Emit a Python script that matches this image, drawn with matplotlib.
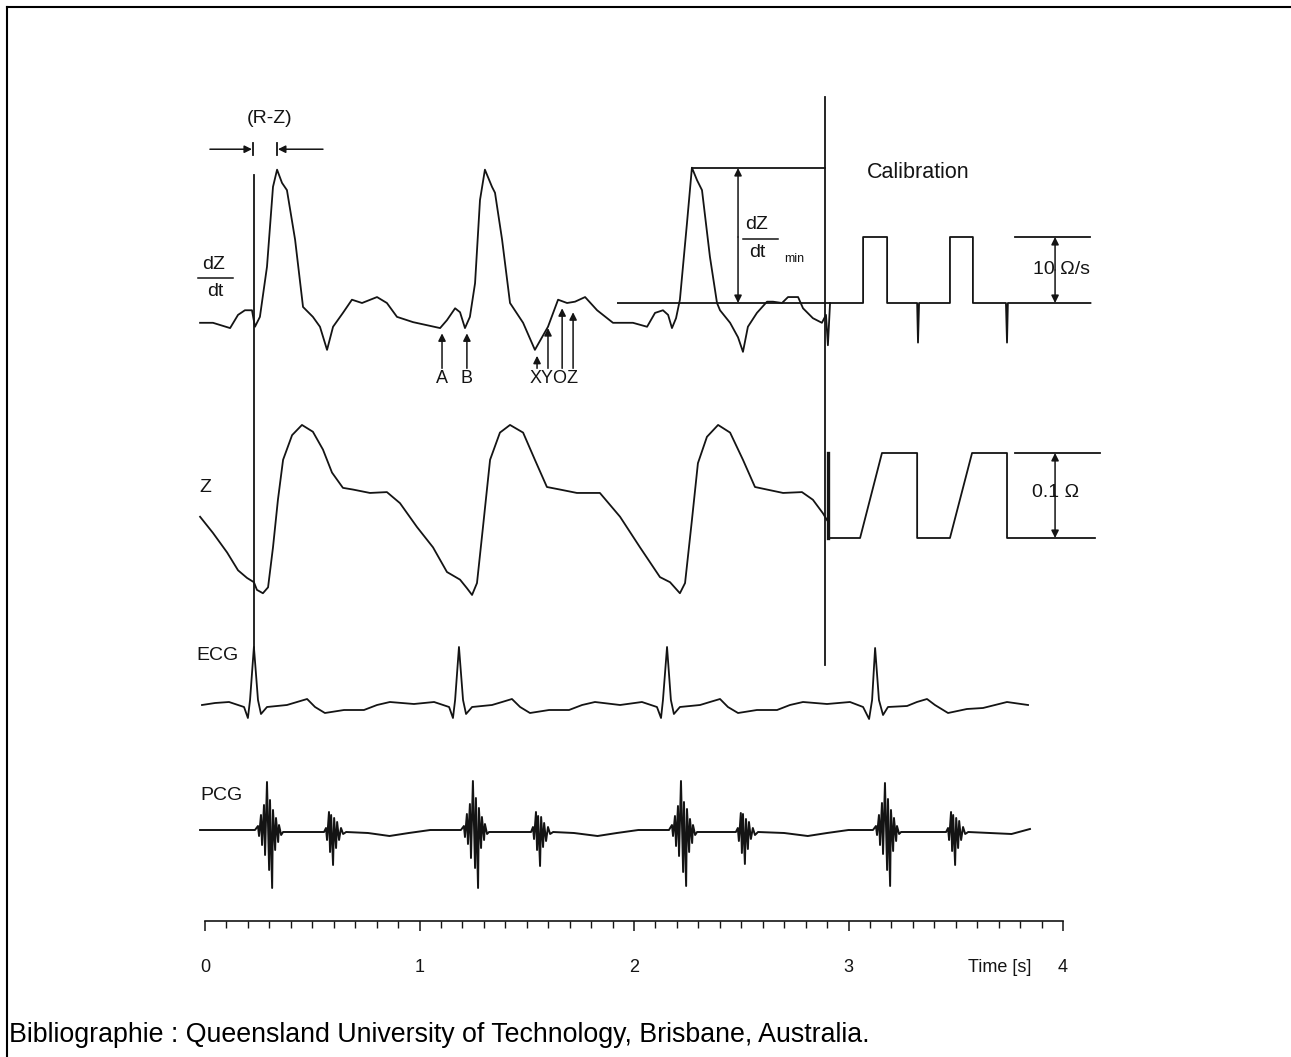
import numpy as np
import matplotlib
matplotlib.use('Agg')
import matplotlib.pyplot as plt
from matplotlib.lines import Line2D
from matplotlib.ticker import FixedLocator

plt.rcParams['font.family'] = ['Liberation Sans', 'DejaVu Sans']

# ---- traces (time in s) ----
# dZ/dt in Ohm/s
dzdt_t = [-0.023, 0.037, 0.117, 0.154, 0.186, 0.219, 0.233, 0.256, 0.289, 0.317,
          0.336, 0.359, 0.382, 0.420, 0.457, 0.503, 0.536, 0.569, 0.597, 0.643,
          0.685, 0.732, 0.802, 0.848, 0.895, 0.970, 1.096, 1.128, 1.166, 1.189,
          1.212, 1.235, 1.259, 1.282, 1.305, 1.338, 1.352, 1.385, 1.422, 1.483,
          1.538, 1.571, 1.599, 1.646, 1.688, 1.725, 1.772, 1.828, 1.902, 1.995,
          2.061, 2.098, 2.135, 2.159, 2.177, 2.196, 2.214, 2.247, 2.270, 2.294,
          2.317, 2.354, 2.387, 2.401, 2.448, 2.485, 2.508, 2.531, 2.573, 2.620,
          2.648, 2.690, 2.718, 2.765, 2.788, 2.834, 2.876, 2.895, 2.904, 2.914]
dzdt_v = [-3.0, -3.0, -3.8, -1.8, -1.1, -1.1, -3.6, -2.1, 5.5, 17.6,
          20.2, 18.2, 17.1, 9.6, -0.6, -2.1, -3.6, -7.1, -3.6, -1.5,
          0.5, 0.0, 0.9, 0.0, -2.1, -2.9, -3.8, -2.6, -0.8, -1.4,
          -3.8, -2.1, 3.0, 15.6, 20.2, 17.6, 16.7, 9.6, 0.0, -3.0,
          -7.1, -5.2, -3.6, 0.5, 0.0, 0.2, 0.9, -1.1, -3.0, -3.0,
          -3.6, -1.5, -1.1, -1.8, -3.8, -2.3, 0.5, 12.1, 20.5, 18.6,
          17.1, 7.0, 0.0, -1.1, -3.0, -5.2, -7.4, -3.6, -1.5, 0.2,
          0.2, 0.0, 0.9, 0.9, -0.8, -2.3, -3.0, -1.8, -6.4, 0.0]

# dZ/dt calibration (10 Ohm/s pulses)
cal_dz_t = [1.925, 2.914, 3.068, 3.068, 3.180, 3.180, 3.320, 3.324, 3.329,
            3.473, 3.473, 3.580, 3.580, 3.734, 3.739, 3.743, 4.128]
cal_dz_v = [0, 0, 0, 10, 10, 0, 0, -6.0, 0, 0, 10, 10, 0, 0, -6.0, 0, 0]

# Z in Ohm (relative)
z_t = [-0.023, 0.037, 0.103, 0.154, 0.196, 0.228, 0.242, 0.270, 0.294, 0.317,
       0.340, 0.364, 0.406, 0.452, 0.503, 0.550, 0.592, 0.643, 0.690, 0.769,
       0.848, 0.909, 0.988, 1.063, 1.128, 1.189, 1.221, 1.245, 1.268, 1.296,
       1.329, 1.375, 1.422, 1.483, 1.538, 1.594, 1.655, 1.734, 1.841, 1.935,
       2.028, 2.121, 2.168, 2.214, 2.238, 2.270, 2.298, 2.340, 2.392, 2.448,
       2.508, 2.564, 2.620, 2.695, 2.783, 2.834, 2.881, 2.900]
z_v = [0.025, 0.006, -0.017, -0.038, -0.047, -0.052, -0.061, -0.065, -0.058, -0.011,
       0.045, 0.092, 0.121, 0.133, 0.125, 0.104, 0.077, 0.059, 0.057, 0.053,
       0.054, 0.041, 0.013, -0.011, -0.040, -0.049, -0.059, -0.067, -0.053, 0.013,
       0.092, 0.124, 0.133, 0.124, 0.092, 0.060, 0.057, 0.053, 0.053, 0.025,
       -0.011, -0.046, -0.052, -0.065, -0.053, 0.021, 0.088, 0.119, 0.133, 0.124,
       0.092, 0.060, 0.057, 0.053, 0.054, 0.045, 0.029, 0.021]

# Z calibration (0.1 Ohm steps)
cal_z_t = [2.904, 2.904, 3.054, 3.156, 3.320, 3.320, 3.473, 3.576, 3.739, 3.739, 4.149]
cal_z_v = [0.1, 0, 0, 0.1, 0.1, 0, 0, 0.1, 0.1, 0, 0]

# ECG in mV
ecg_t = [-0.014, 0.047, 0.112, 0.182, 0.200, 0.210, 0.228, 0.247, 0.261, 0.289,
         0.382, 0.429, 0.476, 0.513, 0.559, 0.648, 0.741, 0.802, 0.862, 0.974,
         1.068, 1.138, 1.156, 1.166, 1.184, 1.203, 1.217, 1.245, 1.338, 1.385,
         1.431, 1.469, 1.515, 1.604, 1.697, 1.758, 1.818, 1.935, 2.037, 2.107,
         2.126, 2.135, 2.154, 2.172, 2.186, 2.214, 2.308, 2.354, 2.401, 2.438,
         2.485, 2.573, 2.667, 2.727, 2.788, 2.900, 3.007, 3.068, 3.096, 3.110,
         3.124, 3.142, 3.161, 3.184, 3.273, 3.319, 3.366, 3.403, 3.464, 3.552,
         3.627, 3.739, 3.837]
ecg_v = [0, 0.04, 0.06, -0.04, -0.26, 0.10, 1.16, 0.10, -0.18, -0.04,
         0, 0.06, 0.12, -0.04, -0.16, -0.10, -0.10, 0, 0.06, 0.02,
         0.06, -0.04, -0.26, 0.10, 1.16, 0.10, -0.18, -0.04, 0, 0.06,
         0.12, -0.04, -0.16, -0.10, -0.10, 0, 0.06, 0, 0.06, -0.04,
         -0.26, 0.10, 1.16, 0.10, -0.18, -0.04, 0, 0.06, 0.12, -0.04,
         -0.16, -0.10, -0.10, 0, 0.06, 0.02, 0.06, -0.04, -0.28, 0.10,
         1.14, 0.10, -0.20, -0.04, -0.02, 0.06, 0.12, 0, -0.16, -0.08,
         -0.06, 0.06, 0]

# PCG (arbitrary units)
pcg_t = ([-0.023, 0.10, 0.20]
         + [0.233, 0.247, 0.252, 0.261, 0.266, 0.275, 0.280, 0.289, 0.299, 0.303,
            0.313, 0.317, 0.327, 0.331, 0.341, 0.345, 0.355, 0.364]
         + [0.42, 0.50]
         + [0.555, 0.564, 0.569, 0.578, 0.583, 0.588, 0.597, 0.602, 0.611, 0.616,
            0.625, 0.634, 0.644, 0.658]
         + [0.76, 0.86, 0.95, 1.05, 1.15]
         + [1.193, 1.207, 1.212, 1.221, 1.226, 1.235, 1.240, 1.249, 1.259, 1.263,
            1.273, 1.277, 1.287, 1.291, 1.301, 1.305, 1.315, 1.324]
         + [1.39, 1.47]
         + [1.520, 1.529, 1.534, 1.543, 1.548, 1.553, 1.562, 1.567, 1.576, 1.581,
            1.590, 1.599, 1.609, 1.623]
         + [1.72, 1.83, 1.92, 2.02, 2.12]
         + [2.163, 2.177, 2.182, 2.191, 2.196, 2.205, 2.210, 2.219, 2.229, 2.233,
            2.243, 2.247, 2.257, 2.261, 2.271, 2.275, 2.285, 2.294]
         + [2.36, 2.44]
         + [2.475, 2.484, 2.489, 2.498, 2.503, 2.508, 2.517, 2.522, 2.531, 2.536,
            2.545, 2.554, 2.564, 2.578]
         + [2.70, 2.81, 2.90, 3.00, 3.07]
         + [3.114, 3.128, 3.133, 3.142, 3.147, 3.156, 3.161, 3.170, 3.180, 3.184,
            3.194, 3.198, 3.208, 3.212, 3.222, 3.226, 3.236, 3.245]
         + [3.32, 3.40]
         + [3.455, 3.464, 3.469, 3.478, 3.483, 3.488, 3.497, 3.502, 3.511, 3.516,
            3.525, 3.534, 3.544, 3.558]
         + [3.66, 3.76, 3.846])
pcg_v = ([0, 0, 0]
         + [0, 0.4, -0.6, 1.5, -1.5, 2.5, -2.5, 4.8, -4.0, 3.0,
            -5.8, 2.0, -2.0, 1.2, -1.2, 0.5, -0.5, -0.2]
         + [-0.2, -0.2]
         + [-0.2, 0.2, -1.0, 1.8, -2.2, 1.5, -3.5, 1.2, -1.8, 0.8,
            -1.0, 0.2, -0.4, -0.2]
         + [-0.3, -0.6, -0.3, 0, 0]
         + [0, 0.4, -0.7, 1.6, -1.4, 2.6, -2.8, 4.9, -3.8, 3.2,
            -5.8, 2.2, -1.8, 1.3, -1.0, 0.6, -0.4, -0.2]
         + [-0.2, -0.2]
         + [-0.2, 0.3, -0.9, 1.8, -2.0, 1.4, -3.6, 1.3, -1.7, 0.7,
            -1.1, 0.3, -0.4, -0.2]
         + [-0.3, -0.6, -0.3, 0, 0]
         + [0, 0.5, -0.6, 1.4, -1.6, 2.4, -2.6, 4.9, -4.2, 2.8,
            -5.6, 2.1, -2.2, 1.1, -1.3, 0.5, -0.5, -0.2]
         + [-0.2, -0.2]
         + [-0.2, 0.2, -1.1, 1.7, -2.3, 1.6, -3.4, 1.1, -1.9, 0.8,
            -0.9, 0.2, -0.5, -0.2]
         + [-0.3, -0.6, -0.3, 0, 0]
         + [0, 0.4, -0.5, 1.5, -1.5, 2.7, -2.4, 4.7, -4.0, 3.1,
            -5.6, 2.0, -2.1, 1.2, -1.1, 0.4, -0.4, -0.2]
         + [-0.2, -0.2]
         + [-0.2, 0.2, -1.0, 1.8, -2.1, 1.5, -3.5, 1.2, -1.8, 0.9,
            -1.0, 0.3, -0.4, -0.2]
         + [-0.3, -0.4, 0.1])

time_ticks = [0, 1, 2, 3, 4]
time_labels = ['0', '1', '2', '3', '4']

# ---- layout ----
W, H = 1291, 1057
T0_PX, PX_PER_S = 205, 214.5
XLIM = (-T0_PX / PX_PER_S, (W - T0_PX) / PX_PER_S)
INK = '#141414'
LW = 1.3

fig = plt.figure(figsize=(W / 100, H / 100), dpi=100)


def panel(zero_px, px_per_unit):
    ax = fig.add_axes([0, 0, 1, 1])
    ax.set_xlim(*XLIM)
    ax.set_ylim((zero_px - H) / px_per_unit, zero_px / px_per_unit)
    ax.axis('off')
    ax.patch.set_visible(False)
    return ax


ax_dz = panel(303, 6.6)
ax_z = panel(538, 850)
ax_ecg = panel(705, 50)
ax_pcg = panel(830, 10)


def arrow(ax, tail, head, style='-|>'):
    ax.annotate('', xy=head, xytext=tail,
                arrowprops=dict(arrowstyle=style, color=INK, lw=1.1,
                                mutation_scale=11, shrinkA=0, shrinkB=0))


txt = dict(color=INK, ha='center', va='center')

# dZ/dt
ax_dz.plot(dzdt_t, dzdt_v, color=INK, lw=LW)
ax_dz.plot(cal_dz_t, cal_dz_v, color=INK, lw=LW)
ax_dz.plot([3.776, 4.128], [10, 10], color=INK, lw=LW)
arrow(ax_dz, (3.963, 5), (3.963, 10))
arrow(ax_dz, (3.963, 5), (3.963, 0))
ax_dz.text(3.991, 5.0, '10 \u03a9/s', fontsize=14, **txt)
ax_dz.text(3.324, 19.7, 'Calibration', fontsize=15.5, **txt)

# dZ/dt min measurement
ax_dz.plot([2.270, 2.890], [20.45, 20.45], color=INK, lw=LW)
arrow(ax_dz, (2.485, 10), (2.485, 20.45))
arrow(ax_dz, (2.485, 10), (2.485, 0))
ax_dz.text(2.573, 11.9, 'dZ', fontsize=14, **txt)
ax_dz.plot([2.508, 2.671], [9.7, 9.7], color=INK, lw=1.1)
ax_dz.text(2.573, 7.6, 'dt', fontsize=14, **txt)
ax_dz.text(2.746, 6.7, 'min', fontsize=9, **txt)

# vertical markers (R wave and end of recording)
ax_dz.plot([0.228, 0.228], [19.4, -52.3], color=INK, lw=LW)
ax_dz.plot([2.890, 2.890], [31.2, -54.8], color=INK, lw=LW)

# (R-Z) interval
ax_dz.text(0.303, 28.0, '(R-Z)', fontsize=14, **txt)
arrow(ax_dz, (0.023, 23.3), (0.219, 23.3))
arrow(ax_dz, (0.550, 23.3), (0.340, 23.3))
ax_dz.plot([0.224, 0.224], [24.2, 22.4], color=INK, lw=1.3)
ax_dz.plot([0.336, 0.336], [24.2, 22.4], color=INK, lw=1.3)

# characteristic points
for t, tip in [(1.105, -4.6), (1.221, -4.6), (1.548, -8.0),
               (1.599, -3.8), (1.665, -0.8), (1.716, -1.4)]:
    arrow(ax_dz, (t, -9.9), (t, tip))
ax_dz.text(1.105, -11.5, 'A', fontsize=13, **txt)
ax_dz.text(1.221, -11.5, 'B', fontsize=13, **txt)
ax_dz.text(1.627, -11.5, 'XYOZ', fontsize=13, **txt)

# dZ/dt label
ax_dz.text(0.042, 5.9, 'dZ', fontsize=14, **txt)
ax_dz.plot([-0.033, 0.131], [3.8, 3.8], color=INK, lw=1.1)
ax_dz.text(0.047, 1.8, 'dt', fontsize=14, **txt)

# Z
ax_z.plot(z_t, z_v, color=INK, lw=LW)
ax_z.plot(cal_z_t, cal_z_v, color=INK, lw=LW)
ax_z.plot([2.904, 2.904], [0, 0.1], color=INK, lw=2.4)
ax_z.plot([3.776, 4.172], [0.1, 0.1], color=INK, lw=LW)
arrow(ax_z, (3.963, 0.05), (3.963, 0.1))
arrow(ax_z, (3.963, 0.05), (3.963, 0.0))
ax_z.text(3.963, 0.053, '0.1 \u03a9', fontsize=14, **txt)
ax_z.text(0.0, 0.060, 'Z', fontsize=14, **txt)

# ECG
ax_ecg.plot(ecg_t, ecg_v, color=INK, lw=LW)
ax_ecg.text(0.056, 0.98, 'ECG', fontsize=14, **txt)

# PCG
ax_pcg.plot(pcg_t, pcg_v, color=INK, lw=1.4)
ax_pcg.text(0.079, 3.5, 'PCG', fontsize=14, **txt)
ax_pcg.text(3.706, -13.7, 'Time [s]', fontsize=13, **txt)

# time axis
ax_t = fig.add_axes([0, (H - 921) / H, 1, 0.02])
ax_t.set_xlim(*XLIM)
ax_t.patch.set_visible(False)
for s in ['top', 'left', 'right']:
    ax_t.spines[s].set_visible(False)
ax_t.spines['bottom'].set_bounds(0, 4)
ax_t.spines['bottom'].set_color(INK)
ax_t.spines['bottom'].set_linewidth(1.2)
ax_t.set_yticks([])
ax_t.set_xticks(time_ticks)
ax_t.set_xticklabels(time_labels)
ax_t.xaxis.set_minor_locator(FixedLocator(np.linspace(0, 4, 41)))
ax_t.tick_params(axis='x', which='major', direction='out', length=7, width=1.1,
                 color=INK, labelcolor=INK, labelsize=13, pad=20)
ax_t.tick_params(axis='x', which='minor', direction='out', length=5, width=1.0,
                 color=INK)

# frame and credit
fig.add_artist(Line2D([7 / W, 1], [1 - 7 / H, 1 - 7 / H], color='black', lw=1.5))
fig.add_artist(Line2D([7 / W, 7 / W], [0, 1 - 7 / H], color='black', lw=1.5))
fig.text(9 / W, 1 - 1035 / H,
         'Bibliographie : Queensland University of Technology, Brisbane, Australia.',
         fontsize=19.3, color='black', ha='left', va='center')

fig.savefig('out.png', dpi=100)
